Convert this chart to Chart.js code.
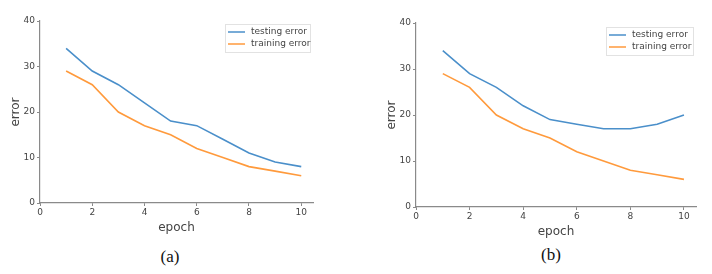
<!DOCTYPE html>
<html>
<head>
<meta charset="utf-8">
<script src="https://cdn.jsdelivr.net/npm/chart.js@4.4.0/dist/chart.umd.min.js"></script>
<style>
  body { margin: 0; background: #fff; width: 712px; height: 274px; position: relative; overflow: hidden; }
  .panel { position: absolute; top: 0; width: 356px; height: 240px; }
  .caption { position: absolute; font-family: "Liberation Serif", "Times New Roman", serif; font-size: 17px; color: #111; transform: translate(-50%, -50%); }
</style>
</head>
<body>
<div class="panel" style="left:0"><canvas id="chartA"></canvas></div>
<div class="panel" style="left:356px"><canvas id="chartB"></canvas></div>
<div class="caption" style="left:170px; top:257px">(a)</div>
<div class="caption" style="left:551px; top:255px">(b)</div>
<script>
// data
const epochs = [1, 2, 3, 4, 5, 6, 7, 8, 9, 10];
const testingErrorA = [34, 29, 26, 22, 18, 17, 14, 11, 9, 8];
const trainingErrorA = [29, 26, 20, 17, 15, 12, 10, 8, 7, 6];
const testingErrorB = [34, 29, 26, 22, 19, 18, 17, 17, 18, 20];
const trainingErrorB = [29, 26, 20, 17, 15, 12, 10, 8, 7, 6];
const seriesLabels = ['testing error', 'training error'];

const BLUE = '#4a8fca';
const ORANGE = '#ff9a3c';
const TEXT = '#444';
const AXIS = '#8a8a8a';

// legend box in the upper right corner of the plot area
const insideLegend = {
    id: 'insideLegend',
    afterDraw(chart, args, opts) {
        const ctx = chart.ctx;
        const area = chart.chartArea;
        const w = opts.width, rowH = 12;
        const x = area.right - 3 - w;
        const y = area.top + opts.top;
        ctx.save();
        ctx.fillStyle = '#fff';
        ctx.strokeStyle = '#e2e2e2';
        ctx.lineWidth = 1;
        ctx.fillRect(x, y, w, 28);
        ctx.strokeRect(x + 0.5, y + 0.5, w, 28);
        ctx.font = '9px "DejaVu Sans", sans-serif';
        ctx.textBaseline = 'middle';
        chart.data.datasets.forEach((ds, i) => {
            const cy = y + 8 + i * rowH;
            ctx.strokeStyle = ds.borderColor;
            ctx.lineWidth = 1.5;
            ctx.beginPath();
            ctx.moveTo(x + 3, cy);
            ctx.lineTo(x + 20, cy);
            ctx.stroke();
            ctx.fillStyle = TEXT;
            ctx.fillText(ds.label, x + 26, cy);
        });
        ctx.restore();
    }
};

function makeChart(id, testing, training, pad, legendTop, legendW) {
    const toPoints = arr => arr.map((v, i) => ({ x: epochs[i], y: v }));
    return new Chart(document.getElementById(id), {
        type: 'line',
        data: {
            datasets: [
                { label: seriesLabels[0], data: toPoints(testing), borderColor: BLUE, borderWidth: 1.6, pointRadius: 0, tension: 0 },
                { label: seriesLabels[1], data: toPoints(training), borderColor: ORANGE, borderWidth: 1.6, pointRadius: 0, tension: 0 }
            ]
        },
        options: {
            responsive: false,
            animation: false,
            events: [],
            layout: { padding: pad },
            plugins: {
                legend: { display: false },
                tooltip: { enabled: false },
                insideLegend: { top: legendTop, width: legendW }
            },
            scales: {
                x: {
                    type: 'linear',
                    min: 0,
                    max: 10.45,
                    afterBuildTicks: s => { s.ticks = [0, 2, 4, 6, 8, 10].map(v => ({ value: v })); },
                    afterFit: s => { s.height = 32; },
                    grid: { drawOnChartArea: false, drawTicks: true, tickLength: 3, color: AXIS },
                    border: { color: AXIS, width: 1.2 },
                    ticks: { color: TEXT, font: { family: 'DejaVu Sans', size: 9 }, padding: 1, maxRotation: 0 },
                    title: { display: true, text: 'epoch', color: TEXT, font: { family: 'DejaVu Sans', size: 12 }, padding: { top: 0, bottom: 0 } }
                },
                y: {
                    min: 0,
                    max: 40,
                    ticks: { stepSize: 10, color: TEXT, font: { family: 'DejaVu Sans', size: 9 }, padding: 2 },
                    afterFit: s => { s.width = 31; },
                    grid: { drawOnChartArea: false, drawTicks: true, tickLength: 3, color: AXIS },
                    border: { color: AXIS, width: 1.2 },
                    title: { display: true, text: 'error', color: TEXT, font: { family: 'DejaVu Sans', size: 12 }, padding: { top: 0, bottom: 0 } }
                }
            }
        },
        plugins: [insideLegend]
    });
}

function sizeCanvas(id) {
    const c = document.getElementById(id);
    c.width = 356; c.height = 240;
    c.style.width = '356px'; c.style.height = '240px';
}
sizeCanvas('chartA');
sizeCanvas('chartB');

makeChart('chartA', testingErrorA, trainingErrorA, { left: 9, right: 43, top: 21, bottom: 5 }, 3, 85);
makeChart('chartB', testingErrorB, trainingErrorB, { left: 29, right: 16, top: 23, bottom: 1 }, 4, 87);
</script>
</body>
</html>
